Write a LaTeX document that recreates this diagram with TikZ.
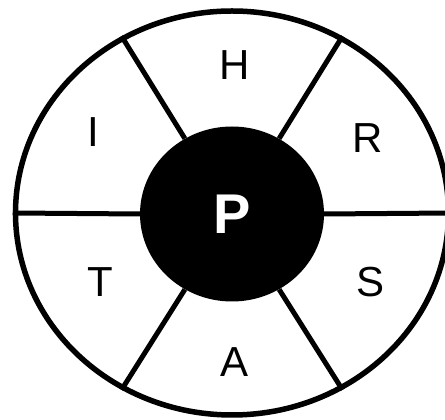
\documentclass[tikz,border=0pt]{standalone}
\usepackage{fontspec}
\setmainfont{Liberation Sans}
\usepackage{tikz}
\usetikzlibrary{
    positioning,
    shapes.geometric
}

\begin{document}
\begin{tikzpicture}[
    x=1pt,y=1pt,
    spoke/.style={
        line width=5pt
    },
    letter/.style={
        inner sep=0pt,
        font=\fontsize{42}{46}\selectfont
    }
]
%
    \useasboundingbox
    (0,0)
    rectangle
    (445,420);
%
    \node[
        ellipse,
        draw,
        line width=5.5pt,
        inner sep=0pt,
        minimum width=433pt,
        minimum height=404pt
    ]
    (rim) at (232,207) {};
%
    \node[
        ellipse,
        fill=black,
        inner sep=0pt,
        minimum width=184pt,
        minimum height=175pt,
        text=white,
        font=\fontsize{56}{60}\selectfont\bfseries
    ]
    (hub) at (232,206) {
        P
    };
%
    \foreach \ang in {0,58,122,180,238,302}{
        \draw[spoke]
        (hub.\ang)
        --
        (rim.\ang);
    }
%
    \node[letter] (h) at (235,355) {H};
    \node[letter] (r) at (368,282) {R};
    \node[letter] (s) at (371,138) {S};
    \node[letter] (a) at (235,58) {A};
    \node[letter] (t) at (100,138) {T};
    \node[letter] (i) at (93,288) {I};
%
\end{tikzpicture}
\end{document}
